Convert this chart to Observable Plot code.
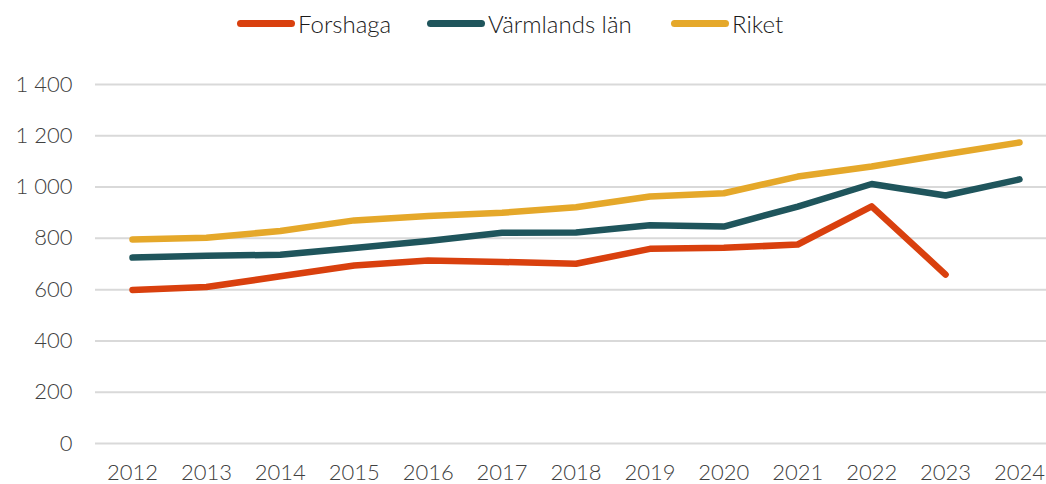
<!DOCTYPE html>
<html>
<head>
<meta charset="utf-8">
<script src="https://cdn.jsdelivr.net/npm/d3@7"></script>
<script src="https://cdn.jsdelivr.net/npm/@observablehq/plot@0.6"></script>
<style>
  html, body { margin: 0; padding: 0; background: #fff; }
  body { width: 1046px; height: 484px; overflow: hidden; font-family: Lato, "Open Sans", sans-serif; }
  #legend { height: 50px; position: relative; }
  .item { position: absolute; top: 9px; display: flex; align-items: center; font-size: 24px; font-weight: 300; color: #1a1a1a; }
  .sw { display: inline-block; width: 58px; height: 7px; border-radius: 4px; margin-right: 3px; }
  svg { display: block; }
</style>
</head>
<body>
<div id="legend"></div>
<div id="chart"></div>
<script>
const years = [2012, 2013, 2014, 2015, 2016, 2017, 2018, 2019, 2020, 2021, 2022, 2023, 2024];
const forshaga = [599, 610, 652, 694, 714, 708, 701, 759, 763, 776, 925, 659, null];
const varmland = [725, 732, 736, 762, 790, 822, 823, 851, 846, 924, 1012, 967, 1030];
const riket = [796, 802, 829, 870, 887, 900, 921, 963, 976, 1041, 1080, 1128, 1174];
const seriesNames = ["Forshaga", "Värmlands län", "Riket"];
const seriesColors = ["#D9400E", "#1F555C", "#E5A82A"];
const yTicks = [0, 200, 400, 600, 800, 1000, 1200, 1400];

const data = [];
[forshaga, varmland, riket].forEach((arr, i) => {
  arr.forEach((v, j) => { if (v != null) data.push({year: years[j], value: v, series: seriesNames[i]}); });
});

// legend
const legendPos = [237, 427, 671];
const legend = document.getElementById("legend");
seriesNames.forEach((n, i) => {
  const it = document.createElement("div");
  it.className = "item";
  it.style.left = legendPos[i] + "px";
  const sw = document.createElement("span");
  sw.className = "sw";
  sw.style.background = seriesColors[i];
  const t = document.createElement("span");
  t.textContent = n;
  it.appendChild(sw); it.appendChild(t);
  legend.appendChild(it);
});

const fmt = d => d3.format(",")(d).replace(/,/g, " ");

const chart = Plot.plot({
  width: 1046,
  height: 434,
  marginTop: 34,
  marginBottom: 41,
  marginLeft: 95,
  marginRight: 0,
  style: {fontFamily: "Lato, 'Open Sans', sans-serif", fontSize: "22px", color: "#404040", background: "#fff"},
  x: {type: "linear", domain: [2012, 2024], range: [132, 1019]},
  y: {domain: [0, 1400]},
  color: {domain: seriesNames, range: seriesColors},
  marks: [
    Plot.ruleY(yTicks, {stroke: "#d9d9d9", strokeWidth: 2}),
    Plot.axisY({ticks: yTicks, tickSize: 0, tickPadding: 23, tickFormat: fmt, fontSize: 22, fontWeight: 300, fill: "#404040", label: null}),
    Plot.axisX({ticks: years, tickSize: 0, tickPadding: 21, tickFormat: d => String(d), fontSize: 22, fontWeight: 300, fill: "#404040", label: null}),
    Plot.line(data, {x: "year", y: "value", z: "series", stroke: "series", strokeWidth: 6.5, strokeLinecap: "round", strokeLinejoin: "round"})
  ]
});
document.getElementById("chart").appendChild(chart);
</script>
</body>
</html>
